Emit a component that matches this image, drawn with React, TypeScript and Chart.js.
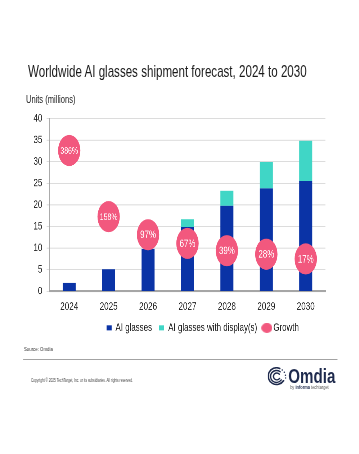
import React, { useEffect, useRef } from "react";
import { Chart, registerables } from "chart.js";

Chart.register(...registerables);

// ---- data ----
const years = ["2024", "2025", "2026", "2027", "2028", "2029", "2030"];
const aiGlasses = [2.0, 5.1, 9.8, 14.9, 19.8, 23.8, 25.6];
const aiGlassesWithDisplay = [0, 0, 0, 1.8, 3.5, 6.1, 9.3];
const growthLabels = ["386%", "158%", "97%", "67%", "39%", "28%", "17%"];
const growthBubbleY = [32.6, 17.3, 13.1, 11.1, 9.4, 8.6, 7.5];
const seriesNames = ["AI glasses", "AI glasses with display(s)", "Growth"];
const yMin = 0;
const yMax = 40;
const yStep = 5;

// ---- style ----
const S = 0.72; // horizontal squeeze of the whole picture
const W = 359 / S;
const BLUE = "#0a33a6";
const TEAL = "#40d6c6";
const PINK = "#f2587e";
const FONT = '"Liberation Sans", Arial, sans-serif';
const LEGEND_DX = 55.5;
const LEGEND_DY = -9.45;
const CANVAS_TOP = 103.3;
const CANVAS_H = 249.9;

function marker(w: number, h: number, color: string, round: boolean) {
  const c = document.createElement("canvas");
  c.width = w;
  c.height = h;
  const ctx = c.getContext("2d")!;
  ctx.fillStyle = color;
  if (round) {
    ctx.beginPath();
    ctx.ellipse(w / 2, h / 2, w / 2, h / 2, 0, 0, Math.PI * 2);
    ctx.fill();
  } else {
    ctx.fillRect(0, 0, w, h);
  }
  return c;
}

const bubbleLabels = {
  id: "bubbleLabels",
  afterDatasetsDraw(chart: any) {
    const meta = chart.getDatasetMeta(2);
    const ctx = chart.ctx;
    ctx.save();
    ctx.fillStyle = "#ffffff";
    ctx.textAlign = "center";
    ctx.textBaseline = "middle";
    meta.data.forEach((pt: any, i: number) => {
      const label = growthLabels[i];
      const size = label.length > 3 ? 9.6 : 11;
      ctx.font = `${size}px ${FONT}`;
      ctx.fillText(label, pt.x, pt.y + 0.5);
    });
    ctx.restore();
  },
};

const legendShift = {
  id: "legendShift",
  afterLayout(chart: any) {
    const l = chart.legend;
    if (!l) return;
    l.left += LEGEND_DX;
    l.right += LEGEND_DX;
    l.top += LEGEND_DY;
    l.bottom += LEGEND_DY;
  },
};

function ChartCanvas() {
  const ref = useRef<HTMLCanvasElement | null>(null);
  useEffect(() => {
    if (!ref.current) return;
    const markers = [
      marker(7, 5, BLUE, false),
      marker(7, 5, TEAL, false),
      marker(15, 10, PINK, true),
    ];
    const chart = new Chart(ref.current, {
      type: "bar",
      data: {
        labels: years,
        datasets: [
          {
            label: seriesNames[0],
            data: aiGlasses,
            backgroundColor: BLUE,
            stack: "units",
            order: 2,
            barPercentage: 0.33,
            categoryPercentage: 1,
          },
          {
            label: seriesNames[1],
            data: aiGlassesWithDisplay,
            backgroundColor: TEAL,
            stack: "units",
            order: 2,
            barPercentage: 0.33,
            categoryPercentage: 1,
          },
          {
            type: "line",
            label: seriesNames[2],
            data: growthBubbleY,
            showLine: false,
            stack: "growth",
            order: 1,
            pointRadius: 15.5,
            pointHoverRadius: 15.5,
            pointBackgroundColor: PINK,
            pointBorderWidth: 0,
            borderColor: PINK,
            backgroundColor: PINK,
          } as any,
        ],
      },
      options: {
        animation: false,
        responsive: false,
        devicePixelRatio: 2,
        layout: { padding: { left: 0, right: 47, top: 9, bottom: 0 } },
        scales: {
          x: {
            stacked: true,
            grid: { display: false, drawTicks: false },
            border: { color: "#a6a6a6", width: 2 },
            ticks: {
              color: "#222",
              font: { family: FONT, size: 11.2 },
              padding: 8.5,
            },
          },
          y: {
            stacked: true,
            min: yMin,
            max: yMax,
            afterFit(scale: any) {
              scale.width = 68.75;
            },
            ticks: {
              stepSize: yStep,
              color: "#222",
              font: { family: FONT, size: 11 },
              padding: 6,
            },
            grid: { color: "#dcdcdc", lineWidth: 1, tickLength: 4 },
            border: { color: "#a6a6a6", width: 1 },
          },
        },
        plugins: {
          tooltip: { enabled: false },
          legend: {
            position: "bottom",
            labels: {
              usePointStyle: true,
              pointStyleWidth: 7,
              padding: 10,
              color: "#222",
              font: { family: FONT, size: 11 },
              sort: (a: any, b: any) => a.datasetIndex - b.datasetIndex,
              generateLabels: (c: any) => {
                const items = (Chart.defaults.plugins.legend.labels as any).generateLabels(c);
                items.forEach((it: any) => {
                  it.pointStyle = markers[it.datasetIndex];
                });
                return items;
              },
            },
          },
        },
      },
      plugins: [bubbleLabels, legendShift],
    });
    return () => chart.destroy();
  }, []);
  return (
    <canvas
      ref={ref}
      width={Math.round(W)}
      height={CANVAS_H}
      style={{ position: "absolute", left: 0, top: CANVAS_TOP, width: Math.round(W), height: CANVAS_H }}
    />
  );
}

function Logo() {
  return (
    <svg
      width={26.4}
      height={19}
      viewBox="0 0 20 20"
      preserveAspectRatio="none"
      style={{ position: "absolute", left: 371.8, top: 366.7 }}
    >
      <g fill="none" stroke="#1e2a4d" strokeLinecap="round">
        <path d="M 16.5 14.5 A 8.8 8.8 0 1 1 12.5 1.5" strokeWidth={1.7} />
        <path d="M 14.2 13.6 A 6.3 6.3 0 1 1 13.0 5.0" strokeWidth={1.5} />
        <path d="M 12.4 12.0 A 3.6 3.6 0 1 1 12.2 7.6" strokeWidth={1.4} />
      </g>
      <g fill="#1e2a4d">
        <circle cx={15.2} cy={3.2} r={0.8} />
        <circle cx={17.4} cy={5.6} r={0.8} />
        <circle cx={18.6} cy={8.6} r={0.8} />
        <circle cx={18.8} cy={11.6} r={0.7} />
      </g>
    </svg>
  );
}

const text = (extra: React.CSSProperties): React.CSSProperties => ({
  position: "absolute",
  fontFamily: FONT,
  lineHeight: 1,
  whiteSpace: "nowrap",
  margin: 0,
  ...extra,
});

export default function App() {
  return (
    <div
      style={{
        position: "absolute",
        left: 0,
        top: 0,
        width: 359,
        height: 454,
        overflow: "hidden",
        background: "#ffffff",
      }}
    >
      <div
        style={{
          position: "absolute",
          left: 0,
          top: 0,
          width: W,
          height: 454,
          transform: `scaleX(${S})`,
          transformOrigin: "0 0",
        }}
      >
        <div style={text({ left: 38.9, top: 63, fontSize: 16.1, color: "#1a1a1a" })}>
          Worldwide AI glasses shipment forecast, 2024 to 2030
        </div>
        <div style={text({ left: 36, top: 94.1, fontSize: 10.5, color: "#222" })}>
          Units (millions)
        </div>
        <ChartCanvas />
        <div style={text({ left: 33.3, top: 346.4, fontSize: 6, color: "#333" })}>
          Source: Omdia
        </div>
        <div
          style={{
            position: "absolute",
            left: 32,
            top: 358.5,
            width: 437.4,
            height: 1.6,
            background: "#a3a3a3",
          }}
        />
        <div style={text({ left: 43, top: 378.6, fontSize: 4.45, color: "#444" })}>
          Copyright © 2025 TechTarget, Inc. or its subsidiaries. All rights reserved.
        </div>
        <Logo />
        <div style={text({ left: 400.4, top: 364.5, fontSize: 21, fontWeight: 700, color: "#1e2a4d" })}>
          Omdia
        </div>
        <div style={text({ left: 403, top: 385.3, fontSize: 5.5, color: "#555" })}>
          by <b style={{ color: "#1e2a4d" }}>informa</b> techtarget
        </div>
      </div>
    </div>
  );
}
